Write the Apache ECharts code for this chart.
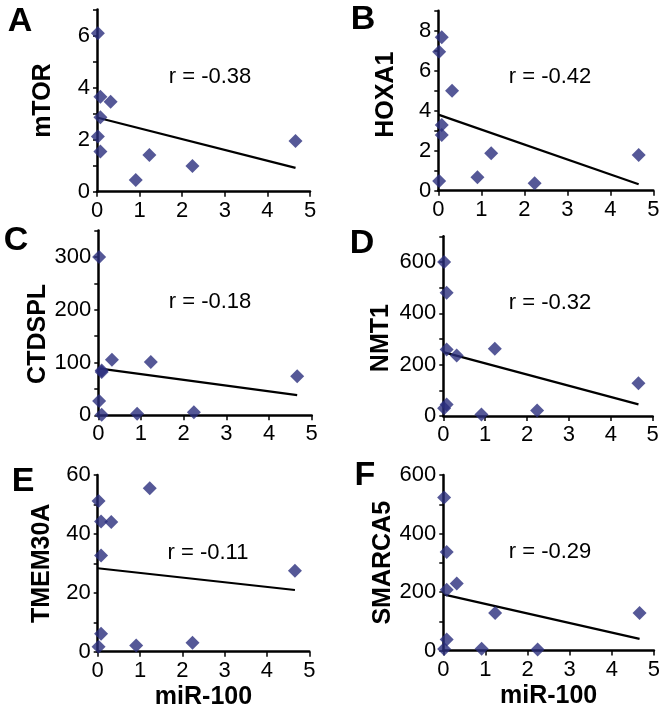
<!DOCTYPE html>
<html>
<head>
<meta charset="utf-8">
<script src="https://cdn.jsdelivr.net/npm/echarts@6/dist/echarts.min.js"></script>
<style>
    html, body { margin: 0; padding: 0; background: #fff; }
    #chart { width: 665px; height: 718px; }
</style>
</head>
<body>
<div id="chart"></div>
<script>
// miR-100 level, shared by all panels
var miR100 = [0.02, 0.02, 0.08, 0.08, 0.08, 0.32, 0.91, 1.23, 2.24, 4.66];

var mTOR = [6.09, 2.12, 3.65, 2.86, 1.54, 3.46, 0.45, 1.41, 0.99, 1.95];
var HOXA1 = [6.95, 0.48, 7.67, 3.28, 2.78, 5.0, 0.67, 1.87, 0.37, 1.78];
var CTDSPL = [300, 27, 82, 85, 1, 105, 3, 101, 6, 74];
var NMT1 = [600, 30, 480, 259, 45, 236, 6, 262, 21, 128];
var TMEM30A = [51.2, 1.7, 44.2, 32.7, 6.1, 44, 2.1, 55.5, 3.0, 27.5];
var SMARCA5 = [523, 5, 337, 208, 38, 229, 6, 128, 3, 128];

var geneNames = ['mTOR', 'HOXA1', 'CTDSPL', 'NMT1', 'TMEM30A', 'SMARCA5'];
var panelLetters = ['A', 'B', 'C', 'D', 'E', 'F'];
var rLabels = ['r = -0.38', 'r = -0.42', 'r = -0.18', 'r = -0.32', 'r = -0.11', 'r = -0.29'];
// y axis: max, tick step, label step
var yMax = [7, 9, 350, 700, 60, 600];
var yTick = [1, 1, 50, 100, 10, 100];
var yLabelStep = [2, 2, 100, 200, 20, 200];
var xTicks = [0, 1, 2, 3, 4, 5];

var geneData = [mTOR, HOXA1, CTDSPL, NMT1, TMEM30A, SMARCA5];

// panel placement (px); nameShift moves the y name down
var panels = [
    { left: 97, top: 9.5, width: 213, height: 182.2, letter: [20, 22], r: [210, 77], nameGap: 41, nameShift: 0 },
    { left: 438.3, top: 10.7, width: 215, height: 180, letter: [363, 20], r: [550, 77], nameGap: 40, nameShift: -6 },
    { left: 98.3, top: 230.5, width: 213.4, height: 184.8, letter: [16, 241], r: [210, 302], nameGap: 45, nameShift: 11 },
    { left: 443.3, top: 236.3, width: 209.4, height: 179.7, letter: [362, 244], r: [550, 303], nameGap: 50, nameShift: 12 },
    { left: 97.7, top: 475, width: 211.6, height: 176.7, letter: [23, 482], r: [208, 553], nameGap: 43, nameShift: 0 },
    { left: 443.3, top: 475, width: 210.6, height: 175.5, letter: [365, 476], r: [550, 552], nameGap: 46, nameShift: 0 }
];

var fontFamily = '"Liberation Sans", Arial, sans-serif';

function linearFit(xs, ys) {
    var n = xs.length, mx = 0, my = 0, sxy = 0, sxx = 0;
    for (var i = 0; i < n; i++) { mx += xs[i]; my += ys[i]; }
    mx /= n; my /= n;
    for (var j = 0; j < n; j++) {
        sxy += (xs[j] - mx) * (ys[j] - my);
        sxx += (xs[j] - mx) * (xs[j] - mx);
    }
    var slope = sxy / sxx;
    return { slope: slope, intercept: my - slope * mx };
}

function buildOption() {
    var grids = [], xAxes = [], yAxes = [], series = [], graphics = [];
    var xMaxVal = Math.max.apply(null, miR100);

    for (var k = 0; k < 6; k++) {
        var p = panels[k];
        grids.push({ left: p.left, top: p.top, width: p.width, height: p.height, containLabel: false });

        xAxes.push({
            type: 'value', gridIndex: k, min: xTicks[0], max: xTicks[xTicks.length - 1], interval: 1,
            name: k >= 4 ? 'miR-100' : '', nameLocation: 'middle', nameGap: 33,
            nameTextStyle: { fontFamily: fontFamily, fontSize: 25, fontWeight: 'bold', color: '#000' },
            axisLine: { show: true, onZero: false, lineStyle: { color: '#000', width: 2.5 } },
            axisTick: { show: true, inside: false, length: 5, lineStyle: { color: '#000', width: 1.5 } },
            axisLabel: {
                fontFamily: fontFamily, fontSize: 22, color: '#000', margin: 8,
                showMinLabel: true, showMaxLabel: true
            },
            splitLine: { show: false }
        });

        // rotated name: padding on the right pushes the text down the axis
        var sh = p.nameShift;
        var namePad = sh >= 0 ? [0, 2 * sh, 0, 0] : [0, 0, 0, -2 * sh];

        (function (step) {
            yAxes.push({
                type: 'value', gridIndex: k, min: 0, max: yMax[k], interval: yTick[k],
                name: geneNames[k], nameLocation: 'middle', nameGap: p.nameGap, nameRotate: 90,
                nameTextStyle: { fontFamily: fontFamily, fontSize: 25, fontWeight: 'bold', color: '#000', padding: namePad },
                axisLine: { show: true, onZero: false, lineStyle: { color: '#000', width: 2.5 } },
                axisTick: { show: true, inside: false, length: 4, lineStyle: { color: '#000', width: 1.5 } },
                axisLabel: {
                    fontFamily: fontFamily, fontSize: 22, color: '#000', margin: 7,
                    showMinLabel: true, showMaxLabel: true,
                    formatter: function (v) { return (Math.round(v) % step === 0) ? String(v) : ''; }
                },
                splitLine: { show: false }
            });
        })(yLabelStep[k]);

        var pts = [];
        for (var i = 0; i < miR100.length; i++) pts.push([miR100[i], geneData[k][i]]);

        var fit = linearFit(miR100, geneData[k]);
        series.push({
            type: 'line', xAxisIndex: k, yAxisIndex: k, symbol: 'none', silent: true,
            lineStyle: { color: '#000', width: 2.2 },
            data: [[0, fit.intercept], [xMaxVal, fit.intercept + fit.slope * xMaxVal]],
            z: 2
        });
        series.push({
            type: 'scatter', xAxisIndex: k, yAxisIndex: k,
            symbol: 'diamond', symbolSize: [14, 14],
            itemStyle: { color: '#2b2e7d' },
            data: pts, z: 3
        });

        graphics.push({
            type: 'text', x: p.letter[0], y: p.letter[1],
            style: { text: panelLetters[k], fontFamily: fontFamily, fontSize: 34, fontWeight: 'bold', fill: '#000', align: 'center', verticalAlign: 'middle' }
        });
        graphics.push({
            type: 'text', x: p.r[0], y: p.r[1],
            style: { text: rLabels[k], fontFamily: fontFamily, fontSize: 22, fill: '#000', align: 'center', verticalAlign: 'middle' }
        });
    }

    return {
        animation: false,
        backgroundColor: '#fff',
        grid: grids,
        xAxis: xAxes,
        yAxis: yAxes,
        series: series,
        graphic: graphics
    };
}

var chart = echarts.init(document.getElementById('chart'), null, { renderer: 'canvas' });
chart.setOption(buildOption());
</script>
</body>
</html>
